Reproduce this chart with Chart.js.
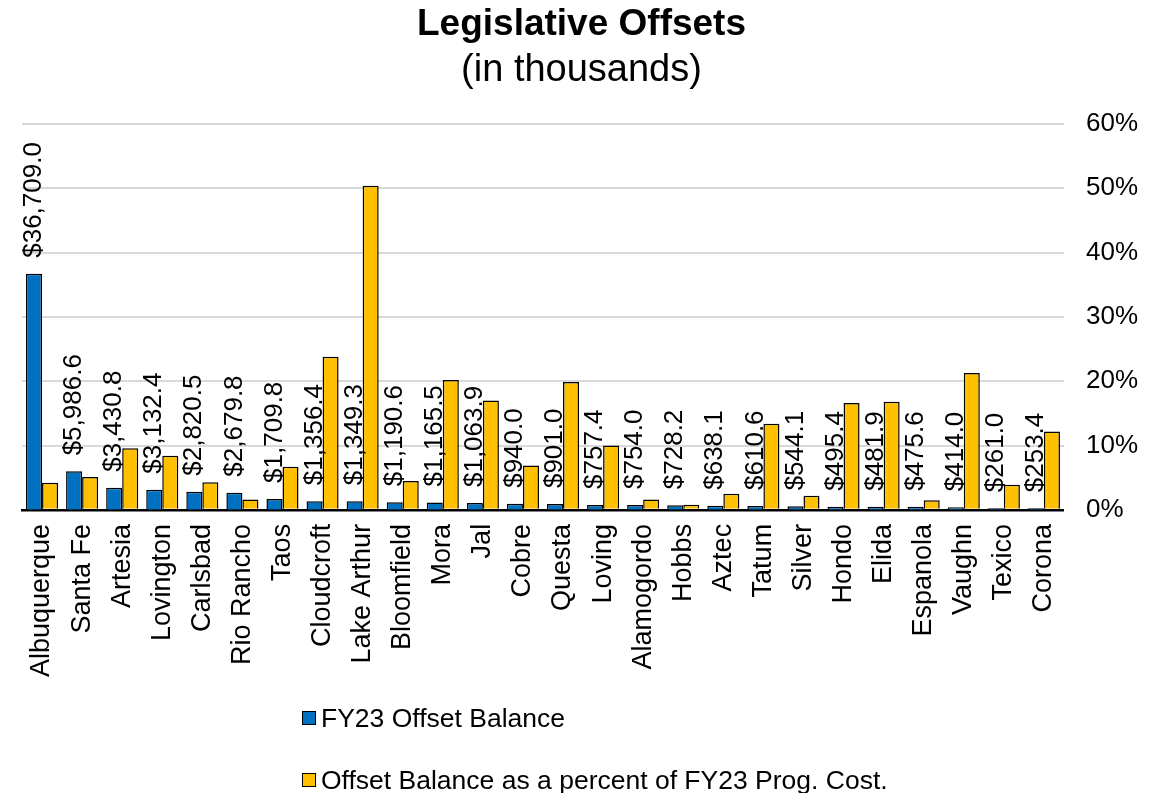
<!DOCTYPE html>
<html>
<head>
<meta charset="utf-8">
<title>Legislative Offsets</title>
<script src="https://cdn.jsdelivr.net/npm/chart.js@4/dist/chart.umd.min.js"></script>
<style>
  body { margin: 0; background: #fff; font-family: "Liberation Sans", Arial, sans-serif; }
  #wrap { position: relative; width: 1163px; height: 793px; }
  #legend { position: absolute; left: 302px; top: 700px; font-size: 26.5px; color: #000; }
  .item { display: flex; align-items: center; height: 36px; margin-bottom: 26px; }
  .box { width: 12px; height: 12px; border: 1.5px solid #000; margin-right: 5px; }
</style>
</head>
<body>
<div id="wrap">
  <canvas id="chart" width="1163" height="793"></canvas>
  <div id="legend"></div>
</div>
<script>
'use strict';

const cities = ['Albuquerque', 'Santa Fe', 'Artesia', 'Lovington', 'Carlsbad', 'Rio Rancho', 'Taos',
  'Cloudcroft', 'Lake Arthur', 'Bloomfield', 'Mora', 'Jal', 'Cobre', 'Questa', 'Loving', 'Alamogordo',
  'Hobbs', 'Aztec', 'Tatum', 'Silver', 'Hondo', 'Elida', 'Espanola', 'Vaughn', 'Texico', 'Corona'];

// FY23 offset balance, in thousands of dollars
const balance = [36709.0, 5986.6, 3430.8, 3132.4, 2820.5, 2679.8, 1709.8, 1356.4, 1349.3, 1190.6,
  1165.5, 1063.9, 940.0, 901.0, 757.4, 754.0, 728.2, 638.1, 610.6, 544.1, 495.4, 481.9, 475.6,
  414.0, 261.0, 253.4];

// balance as a percent of FY23 program cost
const pctOfCost = [4.2, 5.1, 9.6, 8.4, 4.3, 1.6, 6.7, 23.8, 50.4, 4.5, 20.2, 17.0, 6.9, 19.9, 10.0,
  1.6, 0.8, 2.5, 13.4, 2.2, 16.6, 16.8, 1.5, 21.3, 3.9, 12.2];

const pctTicks = [0, 10, 20, 30, 40, 50, 60];

const FONT = '"Liberation Sans", Arial, sans-serif';

const money = v => '$' + v.toLocaleString('en-US', { minimumFractionDigits: 1, maximumFractionDigits: 1 });

// rotated value labels above the blue bars
const barLabels = {
  id: 'barLabels',
  afterDatasetsDraw(chart) {
    const ctx = chart.ctx;
    const meta = chart.getDatasetMeta(0);
    ctx.save();
    ctx.font = '26px ' + FONT;
    ctx.fillStyle = '#000';
    ctx.textAlign = 'left';
    ctx.textBaseline = 'middle';
    meta.data.forEach((bar, i) => {
      ctx.save();
      ctx.translate(bar.x, bar.y - 16);
      ctx.rotate(-Math.PI / 2);
      ctx.fillText(money(balance[i]), 0, 0);
      ctx.restore();
    });
    ctx.restore();
  }
};

const datasets = [
  {
    label: 'FY23 Offset Balance',
    data: balance,
    yAxisID: 'y',
    backgroundColor: '#0070C0',
    borderColor: '#000',
    borderWidth: 1.5
  },
  {
    label: 'Offset Balance as a percent of FY23 Prog. Cost.',
    data: pctOfCost,
    yAxisID: 'y1',
    backgroundColor: '#FFC000',
    borderColor: '#000',
    borderWidth: 1.5
  }
];

new Chart(document.getElementById('chart'), {
  type: 'bar',
  data: { labels: cities, datasets },
  plugins: [barLabels],
  options: {
    responsive: false,
    animation: false,
    layout: { padding: { left: 3, right: 3, top: 0, bottom: 110 } },
    datasets: { bar: { categoryPercentage: 0.8, barPercentage: 1.0 } },
    plugins: {
      legend: { display: false },
      tooltip: { enabled: false },
      title: {
        display: true,
        text: 'Legislative Offsets',
        color: '#000',
        font: { family: FONT, size: 37, weight: 'bold' },
        padding: { top: 3, bottom: 0 }
      },
      subtitle: {
        display: true,
        text: '(in thousands)',
        color: '#000',
        font: { family: FONT, size: 38 },
        padding: { top: 0, bottom: 31 }
      }
    },
    scales: {
      x: {
        grid: { display: false },
        border: { display: true, color: '#000', width: 2.5 },
        ticks: {
          color: '#000',
          font: { family: FONT, size: 27 },
          minRotation: 90,
          maxRotation: 90,
          autoSkip: false,
          padding: 6
        }
      },
      // dollar axis: no labels in the original, just an empty strip on the left
      y: {
        min: 0,
        max: 60000,
        grid: { display: false },
        border: { display: false },
        ticks: { display: false },
        afterFit: axis => { axis.width = 19; }
      },
      y1: {
        position: 'right',
        min: 0,
        max: 60,
        afterBuildTicks: axis => { axis.ticks = pctTicks.map(v => ({ value: v })); },
        grid: { color: '#d9d9d9', lineWidth: 2, drawTicks: false },
        border: { display: false },
        ticks: {
          color: '#000',
          font: { family: FONT, size: 26 },
          padding: 22,
          callback: v => v + '%'
        }
      }
    }
  }
});

// legend stacked in two rows below the chart
const legend = document.getElementById('legend');
datasets.forEach(ds => {
  const item = document.createElement('div');
  item.className = 'item';
  const box = document.createElement('span');
  box.className = 'box';
  box.style.background = ds.backgroundColor;
  const text = document.createElement('span');
  text.textContent = ds.label;
  item.appendChild(box);
  item.appendChild(text);
  legend.appendChild(item);
});
</script>
</body>
</html>
